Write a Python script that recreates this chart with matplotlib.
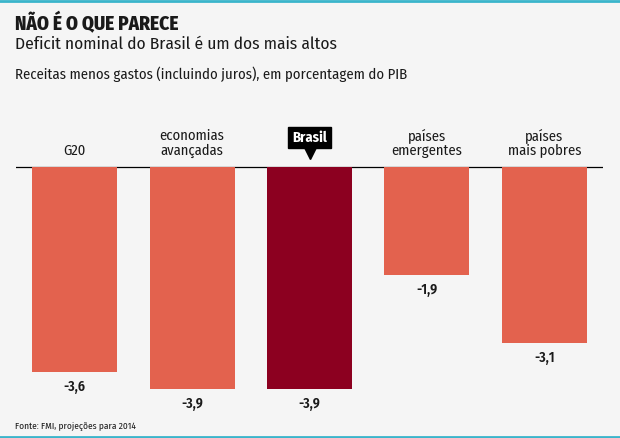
import matplotlib
matplotlib.use("Agg")
import matplotlib.pyplot as plt
from matplotlib import transforms
from matplotlib.lines import Line2D

categories = ["G20", "economias\navançadas", "Brasil", "países\nemergentes", "países\nmais pobres"]
values = [-3.6, -3.9, -3.9, -1.9, -3.1]
value_labels = ["-3,6", "-3,9", "-3,9", "-1,9", "-3,1"]
highlight = "Brasil"

title = "NÃO É O QUE PARECE"
subtitle = "Deficit nominal do Brasil é um dos mais altos"
note = "Receitas menos gastos (incluindo juros), em porcentagem do PIB"
source = "Fonte: FMI, projeções para 2014"

FONT = ["Fira Sans Condensed", "DejaVu Sans"]
plt.rcParams["font.family"] = FONT

W, H = 620, 438
fig = plt.figure(figsize=(W / 100, H / 100), dpi=100)
bg = "#f5f5f5"
fig.patch.set_facecolor(bg)

def px(x, y):
    return x / W, 1 - y / H

# axes: x from 16 to 603 px, y from 100 to 410 px
top_px, bot_px, base_px = 100, 410, 166.5
scale = 57.0
ax = fig.add_axes([16 / W, 1 - bot_px / H, 587 / W, (bot_px - top_px) / H])
ax.set_facecolor(bg)
ax.set_xlim(-0.5, 4.5)
ax.set_ylim(-(bot_px - base_px) / scale, (base_px - top_px) / scale)
ax.axis("off")

ax.axhline(0, color="black", lw=0.9, zorder=1)

xs = list(range(len(categories)))
colors = ["#8c0020" if c == highlight else "#e3624e" for c in categories]
ax.bar(xs, values, width=0.725, color=colors, zorder=2)

for x, v, lab, cat in zip(xs, values, value_labels, categories):
    ax.annotate(lab, xy=(x, v), xytext=(0, -8), textcoords="offset pixels",
                ha="center", va="top", fontsize=10, fontweight="semibold", color="#1a1a1a")
    if cat == highlight:
        ax.annotate(cat, xy=(x, 0), xytext=(0, 22), textcoords="offset pixels",
                    ha="center", va="bottom", fontsize=10.5, fontweight="bold", color="white",
                    bbox=dict(boxstyle="square,pad=0.25", fc="black", ec="black"))
        tr = transforms.offset_copy(ax.transData, fig=fig, x=0, y=14, units="dots")
        ax.plot([x], [0], marker="v", ms=8, color="black", transform=tr, clip_on=False)
    else:
        ax.annotate(cat, xy=(x, 0), xytext=(0, 9), textcoords="offset pixels",
                    ha="center", va="bottom", fontsize=10.5, color="#1a1a1a",
                    linespacing=1.0)

fig.text(*px(15, 30), title, fontsize=13.8, fontweight="heavy", color="#1a1a1a", va="baseline")
fig.text(*px(15, 49), subtitle, fontsize=12.5, color="#1a1a1a", va="baseline")
fig.text(*px(15, 79), note, fontsize=10.6, color="#1a1a1a", va="baseline")
fig.text(*px(15, 428), source, fontsize=6.8, color="#1a1a1a", va="baseline")

# teal border lines
for y in (0.5, 437):
    fig.add_artist(Line2D([0, 1], [1 - y / H, 1 - y / H], transform=fig.transFigure,
                          color="#3ab5cb", lw=2))

fig.savefig("out.png", dpi=100, facecolor=bg)
